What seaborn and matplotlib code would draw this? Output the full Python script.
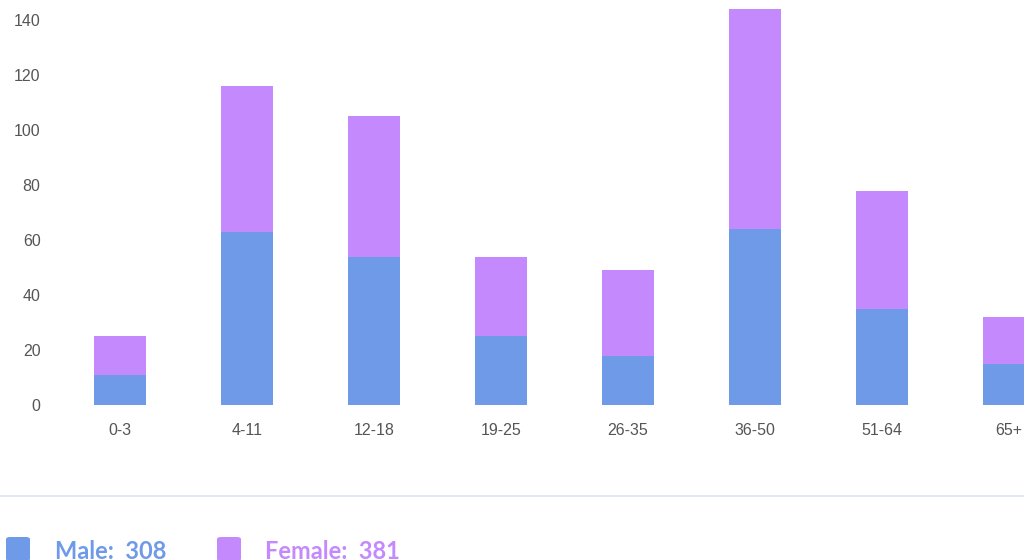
import matplotlib
matplotlib.use("Agg")
import matplotlib.pyplot as plt
from matplotlib.patches import FancyBboxPatch
from matplotlib.lines import Line2D
import seaborn as sns
import pandas as pd

# age groups and counts
age_groups = ["0-3", "4-11", "12-18", "19-25", "26-35", "36-50", "51-64", "65+"]
male = [11, 63, 54, 25, 18, 64, 35, 15]
female = [14, 53, 51, 29, 31, 80, 43, 17]
male_total = 308
female_total = 381
y_ticks = [0, 20, 40, 60, 80, 100, 120, 140]

MALE_COLOR = "#6f9ae8"
FEMALE_COLOR = "#c389fd"

df = pd.DataFrame({"age": age_groups, "male": male, "female": female})
df["total"] = df["male"] + df["female"]

sns.set_style("white")
plt.rcParams["font.family"] = ["Liberation Sans", "DejaVu Sans"]

W, H = 1024, 560
fig = plt.figure(figsize=(W / 100, H / 100), dpi=100)

# axes area in pixels: x from 56.5 to the right edge, y from 6 to 405
ax = fig.add_axes([56.5 / W, (H - 405) / H, (W - 56.5) / W, 398.75 / H])

# stacked bars: the full height in purple, the male part over it in blue
sns.barplot(data=df, x="age", y="total", color=FEMALE_COLOR, width=0.41,
            saturation=1, ax=ax, linewidth=0)
sns.barplot(data=df, x="age", y="male", color=MALE_COLOR, width=0.41,
            saturation=1, ax=ax, linewidth=0)

ax.set_xlim(-0.5, 7.118)
ax.set_ylim(0, 145)
ax.set_yticks(y_ticks)
ax.set_xlabel("")
ax.set_ylabel("")
sns.despine(ax=ax, left=True, bottom=True)
ax.tick_params(axis="y", length=0, pad=11.5, labelsize=11.5, labelcolor="#555555")
ax.tick_params(axis="x", length=0, pad=13, labelsize=11.5, labelcolor="#555555")

# separator line above the legend
fig.add_artist(Line2D([0, 1], [(H - 496) / H, (H - 496) / H],
                      color="#dde4f2", linewidth=1.2))

# legend: rounded squares and coloured labels
legend_items = [
    (6, 55, MALE_COLOR, f"Male: {male_total}"),
    (217, 265, FEMALE_COLOR, f"Female: {female_total}"),
]
for sq_x, txt_x, col, label in legend_items:
    fig.add_artist(FancyBboxPatch((sq_x / W, (H - 561) / H), 24 / W, 24 / H,
                                  boxstyle="round,pad=0,rounding_size=0.004",
                                  facecolor=col, edgecolor="none",
                                  transform=fig.transFigure))
    fig.text(txt_x / W, (H - 559) / H, label.replace(": ", ":  "), color=col,
             fontsize=17, fontweight="bold", family=["Lato", "DejaVu Sans"],
             ha="left", va="baseline")

fig.savefig("out.png", dpi=100)
